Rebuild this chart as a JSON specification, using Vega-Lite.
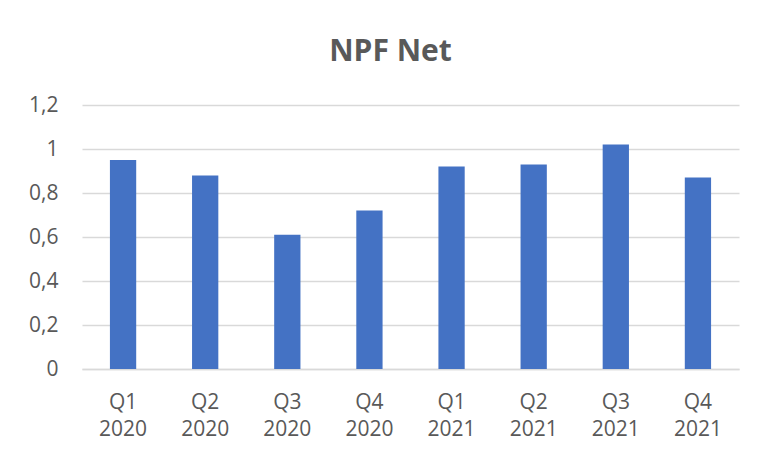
{
  "$schema": "https://vega.github.io/schema/vega-lite/v6.json",
  "autosize": {"type": "none"},
  "width": 657,
  "height": 264,
  "padding": {"left": 82, "top": 105, "right": 18, "bottom": 88},
  "background": "white",
  "title": {
    "text": "NPF Net",
    "font": "Open Sans",
    "fontSize": 30,
    "fontWeight": "bold",
    "color": "#595959",
    "anchor": "middle",
    "dx": -20,
    "offset": 27
  },
  "data": {
    "values": [
      {"q": "Q1 2020", "v": 0.95},
      {"q": "Q2 2020", "v": 0.88},
      {"q": "Q3 2020", "v": 0.61},
      {"q": "Q4 2020", "v": 0.72},
      {"q": "Q1 2021", "v": 0.92},
      {"q": "Q2 2021", "v": 0.93},
      {"q": "Q3 2021", "v": 1.02},
      {"q": "Q4 2021", "v": 0.87}
    ]
  },
  "mark": {"type": "bar", "color": "#4472C4"},
  "encoding": {
    "x": {
      "field": "q",
      "type": "nominal",
      "sort": null,
      "scale": {"paddingInner": 0.68, "paddingOuter": 0.34},
      "axis": {
        "title": null,
        "labelAngle": 0,
        "labelExpr": "split(datum.value, ' ')",
        "labelFont": "Open Sans",
        "labelFontSize": 21,
        "labelColor": "#595959",
        "labelPadding": 22,
        "labelLineHeight": 27,
        "ticks": false,
        "domainColor": "#d9d9d9",
        "domainWidth": 1.5,
        "grid": false
      }
    },
    "y": {
      "field": "v",
      "type": "quantitative",
      "scale": {"domain": [0, 1.2], "nice": false},
      "axis": {
        "title": null,
        "values": [0, 0.2, 0.4, 0.6, 0.8, 1, 1.2],
        "labelExpr": "replace(format(datum.value, '~g'), '.', ',')",
        "labelFont": "Open Sans",
        "labelFontSize": 21,
        "labelColor": "#595959",
        "labelPadding": 24,
        "ticks": false,
        "domain": false,
        "gridColor": "#d9d9d9",
        "gridWidth": 1.5
      }
    }
  },
  "config": {"view": {"stroke": null}}
}
